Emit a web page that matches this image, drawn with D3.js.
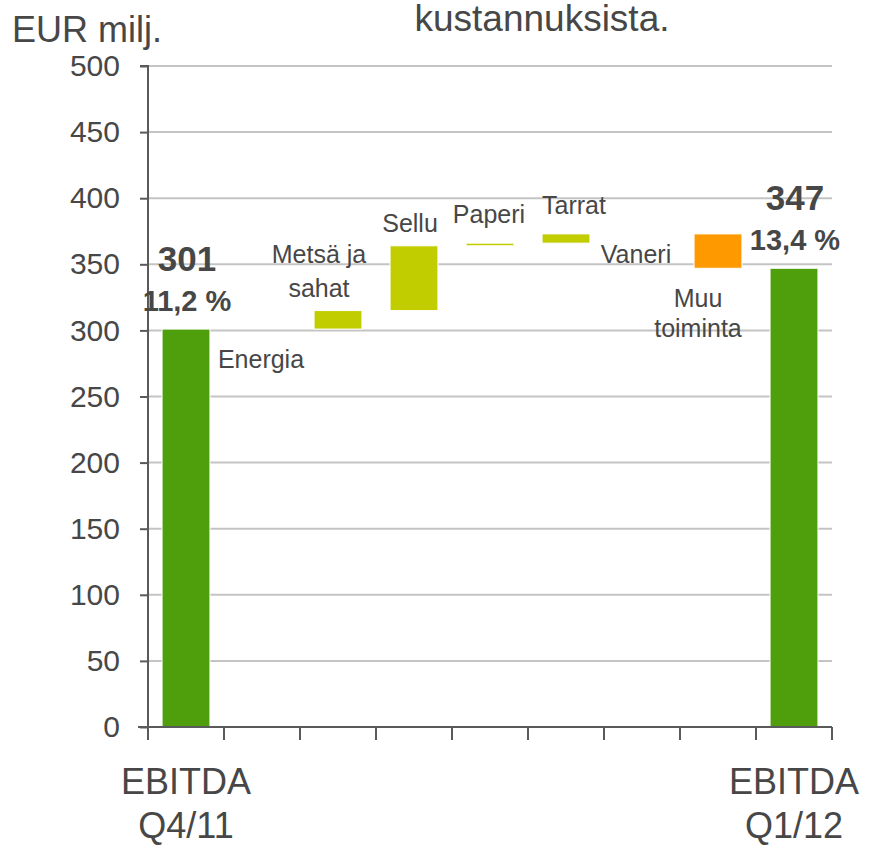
<!DOCTYPE html>
<html>
<head>
<meta charset="utf-8">
<script src="https://cdn.jsdelivr.net/npm/d3@7"></script>
<style>
  body { margin: 0; background: #fff; }
  text { font-family: 'Liberation Sans', Arial, sans-serif; fill: #474747; }
</style>
</head>
<body>
<div id="chart"></div>
<script>
const categories = ['EBITDA Q4/11', 'Energia', 'Metsä ja sahat', 'Sellu', 'Paperi', 'Tarrat', 'Vaneri', 'Muu toiminta', 'EBITDA Q1/12'];
const values = [301, 0, 14, 49, 2, 7, 0, -26, 347];
const isTotal = [true, false, false, false, false, false, false, false, true];
const margins = ['11,2 %', '', '', '', '', '', '', '', '13,4 %'];
const catLines = [['EBITDA', 'Q4/11'], ['Energia'], ['Metsä ja', 'sahat'], ['Sellu'], ['Paperi'], ['Tarrat'], ['Vaneri'], ['Muu', 'toiminta'], ['EBITDA', 'Q1/12']];
const yTicks = [0, 50, 100, 150, 200, 250, 300, 350, 400, 450, 500];

// label placement relative to each bar (dx from slot centre, dy from bar top)
const labelPos = [null, { dx: -1, dy: [39] }, { dx: -19, dy: [-48, -14] }, { dx: -4, dy: [-14] },
  { dx: -1, dy: [-20] }, { dx: 8, dy: [-20] }, { dx: -6, dy: [29] }, { dx: -20, dy: [73, 103] }, null];

const width = 877;
const height = 847;
const margin = { left: 148, right: 45, top: 66, bottom: 120 };

const svg = d3.select('#chart').append('svg')
  .attr('width', width)
  .attr('height', height);

const x = d3.scaleBand()
  .domain(categories)
  .range([margin.left, width - margin.right])
  .paddingInner(0.37)
  .paddingOuter(0.185);

const y = d3.scaleLinear()
  .domain([0, 500])
  .range([height - margin.bottom, margin.top]);

// waterfall steps
let run = 0;
const bars = categories.map((c, i) => {
  let y0;
  let y1;
  if (isTotal[i]) {
    y0 = 0; y1 = values[i]; run = values[i];
  } else {
    y0 = run; y1 = run + values[i]; run = y1;
  }
  let color;
  if (isTotal[i]) color = '#4f9e0c';
  else if (values[i] > 0) color = '#c2cd00';
  else if (values[i] < 0) color = '#ff9900';
  else color = '#ffffff';
  return { c, i, y0, y1, color };
});

// grid
svg.append('g')
  .selectAll('line')
  .data(yTicks.filter(d => d > 0))
  .enter()
  .append('line')
  .attr('x1', margin.left)
  .attr('x2', width - margin.right)
  .attr('y1', d => y(d))
  .attr('y2', d => y(d))
  .style('stroke', '#c4c4c4')
  .style('stroke-width', '2px');

// bars
svg.append('g')
  .selectAll('rect')
  .data(bars)
  .enter()
  .append('rect')
  .attr('x', d => x(d.c))
  .attr('width', x.bandwidth())
  .attr('y', d => y(Math.max(d.y0, d.y1)))
  .attr('height', d => Math.abs(y(d.y0) - y(d.y1)))
  .style('fill', d => d.color)
  .style('stroke', '#fff')
  .style('stroke-width', d => (d.y0 === d.y1 ? '4px' : '1px'));

// y axis
const yAxis = d3.axisLeft(y)
  .tickValues(yTicks)
  .tickSize(8)
  .tickPadding(20);

const gy = svg.append('g')
  .attr('transform', `translate(${margin.left},0)`)
  .call(yAxis);
gy.select('.domain').attr('stroke', '#5a5a5a').attr('stroke-width', 2).attr('d', `M0,${y(0)}V${y(500)}h-8M0,${y(500)}`);
gy.selectAll('.tick line').attr('stroke', '#5a5a5a').attr('stroke-width', 2);
gy.selectAll('.tick text')
  .style('font-size', '30px')
  .style('font-family', "'Liberation Sans', Arial, sans-serif")
  .attr('fill', '#474747');

// x axis: boundary ticks
const step = x.step();
const bounds = d3.range(categories.length + 1).map(k => margin.left + k * step);
svg.append('line')
  .attr('x1', margin.left - 10)
  .attr('x2', width - margin.right)
  .attr('y1', y(0))
  .attr('y2', y(0))
  .style('stroke', '#5a5a5a')
  .style('stroke-width', '2px');
svg.append('g')
  .selectAll('line')
  .data(bounds)
  .enter()
  .append('line')
  .attr('x1', d => d)
  .attr('x2', d => d)
  .attr('y1', y(0))
  .attr('y2', y(0) + 13)
  .style('stroke', '#5a5a5a')
  .style('stroke-width', '2px');

// x labels for totals
bars.filter(d => isTotal[d.i]).forEach((d) => {
  const cx = x(d.c) + x.bandwidth() / 2;
  catLines[d.i].forEach((t, k) => {
    svg.append('text')
      .attr('x', cx)
      .attr('y', 794 + k * 44)
      .attr('text-anchor', 'middle')
      .style('font-size', '36px')
      .text(t);
  });
  // value + margin labels
  svg.append('text')
    .attr('x', cx + 1)
    .attr('y', y(d.y1) - 58)
    .attr('text-anchor', 'middle')
    .style('font-size', '35px')
    .style('font-weight', 'bold')
    .text(values[d.i]);
  svg.append('text')
    .attr('x', cx + 1)
    .attr('y', y(d.y1) - 18)
    .attr('text-anchor', 'middle')
    .style('font-size', '29px')
    .style('font-weight', 'bold')
    .text(margins[d.i]);
});

// category labels for steps
bars.filter(d => !isTotal[d.i]).forEach((d) => {
  const p = labelPos[d.i];
  const cx = x(d.c) + x.bandwidth() / 2 + p.dx;
  const top = y(Math.max(d.y0, d.y1));
  catLines[d.i].forEach((t, k) => {
    svg.append('text')
      .attr('x', cx)
      .attr('y', top + p.dy[k])
      .attr('text-anchor', 'middle')
      .style('font-size', '25px')
      .text(t);
  });
});

// header texts
svg.append('text')
  .attr('x', 12)
  .attr('y', 42)
  .style('font-size', '36px')
  .text('EUR milj.');

svg.append('text')
  .attr('x', 542)
  .attr('y', 31)
  .attr('text-anchor', 'middle')
  .style('font-size', '37px')
  .text('kustannuksista.');
</script>
</body>
</html>
